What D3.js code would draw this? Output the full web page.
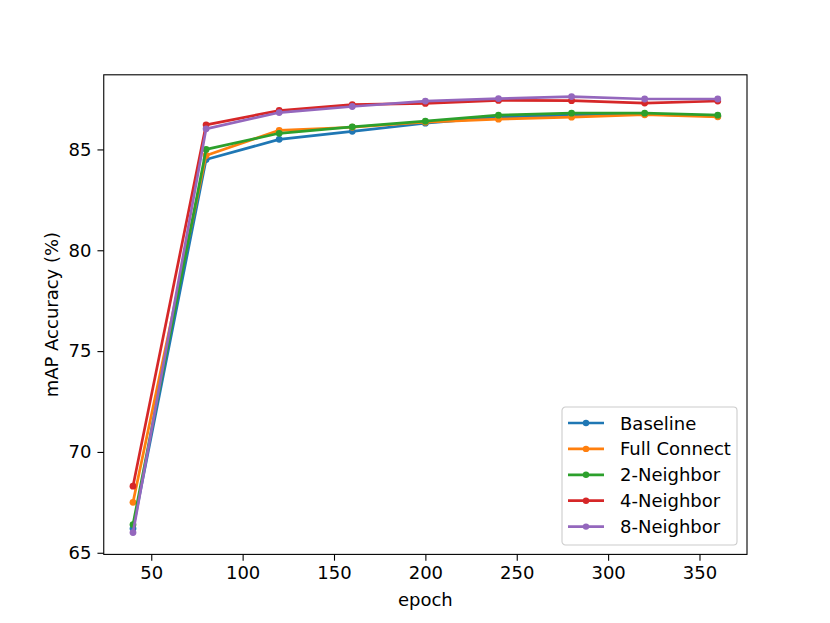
<!DOCTYPE html>
<html>
<head>
<meta charset="utf-8">
<title>mAP vs epoch</title>
<style>
  body { margin: 0; background: #fff; }
  svg text { font-family: 'DejaVu Sans', sans-serif; fill: #000; }
</style>
<script src="https://d3js.org/d3.v7.min.js"></script>
</head>
<body>
<svg id="chart" width="830" height="623"></svg>
<script>
// data
var epochs = [40, 80, 120, 160, 200, 240, 280, 320, 360];
var seriesNames = ["Baseline", "Full Connect", "2-Neighbor", "4-Neighbor", "8-Neighbor"];
var baseline    = [66.2, 84.5, 85.5, 85.9, 86.3, 86.6, 86.7, 86.75, 86.65];
var fullConnect = [67.5, 84.7, 85.95, 86.1, 86.35, 86.5, 86.6, 86.72, 86.62];
var neighbor2   = [66.4, 85.0, 85.8, 86.12, 86.4, 86.7, 86.8, 86.8, 86.7];
var neighbor4   = [68.3, 86.22, 86.93, 87.22, 87.28, 87.43, 87.42, 87.3, 87.4];
var neighbor8   = [66.0, 86.02, 86.83, 87.13, 87.4, 87.52, 87.62, 87.5, 87.5];
var colors = ["#1f77b4", "#ff7f0e", "#2ca02c", "#d62728", "#9467bd"];
var xTicks = [50, 100, 150, 200, 250, 300, 350];
var yTicks = [65, 70, 75, 80, 85];

var all = [baseline, fullConnect, neighbor2, neighbor4, neighbor8];

var svg = d3.select("#chart");
var L = 103.75, R = 747, T = 74.8, B = 554.4;

// matplotlib style 5% margins
var xmin = d3.min(epochs), xmax = d3.max(epochs);
var ymin = d3.min(all, s => d3.min(s)), ymax = d3.max(all, s => d3.max(s));
var xp = (xmax - xmin) * 0.05, yp = (ymax - ymin) * 0.05;

var x = d3.scaleLinear().domain([xmin - xp, xmax + xp]).range([L, R]);
var y = d3.scaleLinear().domain([ymin - yp, ymax + yp]).range([B, T]);

var xAxis = svg.append("g")
  .attr("transform", "translate(0," + B + ")")
  .call(d3.axisBottom(x).tickValues(xTicks).tickSize(6.3).tickPadding(6));
var yAxis = svg.append("g")
  .attr("transform", "translate(" + L + ",0)")
  .call(d3.axisLeft(y).tickValues(yTicks).tickSize(6.3).tickPadding(6));

[xAxis, yAxis].forEach(function (g) {
  g.select(".domain").remove();
  g.selectAll(".tick line").attr("stroke", "#000").attr("stroke-width", 1.1);
  g.selectAll(".tick text").attr("font-size", 18).attr("font-family", "DejaVu Sans");
});

var line = d3.line().x((d, i) => x(epochs[i])).y(d => y(d));

var plot = svg.append("g");
all.forEach(function (s, k) {
  plot.append("path")
    .attr("d", line(s))
    .attr("fill", "none")
    .attr("stroke", colors[k])
    .attr("stroke-width", 2.7)
    .attr("stroke-linejoin", "round")
    .attr("stroke-linecap", "square");
  plot.selectAll(null).data(s).enter().append("circle")
    .attr("cx", (d, i) => x(epochs[i]))
    .attr("cy", d => y(d))
    .attr("r", 3.4)
    .attr("fill", colors[k]);
});

// frame
svg.append("rect")
  .attr("x", L).attr("y", T).attr("width", R - L).attr("height", B - T)
  .attr("fill", "none").attr("stroke", "#000").attr("stroke-width", 1.1);

// axis labels
svg.append("text")
  .attr("x", (L + R) / 2).attr("y", 606)
  .attr("text-anchor", "middle").attr("font-size", 18)
  .text("epoch");
svg.append("text")
  .attr("transform", "translate(58," + ((T + B) / 2) + ") rotate(-90)")
  .attr("text-anchor", "middle").attr("font-size", 18)
  .text("mAP Accuracy (%)");

// legend
var lg = svg.append("g").attr("transform", "translate(562,407)");
lg.append("rect")
  .attr("width", 175).attr("height", 138).attr("rx", 3.5)
  .attr("fill", "#fff").attr("fill-opacity", 0.8)
  .attr("stroke", "#cccccc").attr("stroke-width", 1.1);
seriesNames.forEach(function (name, k) {
  var yy = 16 + k * 25.9;
  lg.append("line")
    .attr("x1", 6).attr("x2", 42).attr("y1", yy).attr("y2", yy)
    .attr("stroke", colors[k]).attr("stroke-width", 2.7);
  lg.append("circle").attr("cx", 24).attr("cy", yy).attr("r", 3.2).attr("fill", colors[k]);
  lg.append("text")
    .attr("x", 58).attr("y", yy + 6.5)
    .attr("font-size", 18)
    .text(name);
});
</script>
</body>
</html>
